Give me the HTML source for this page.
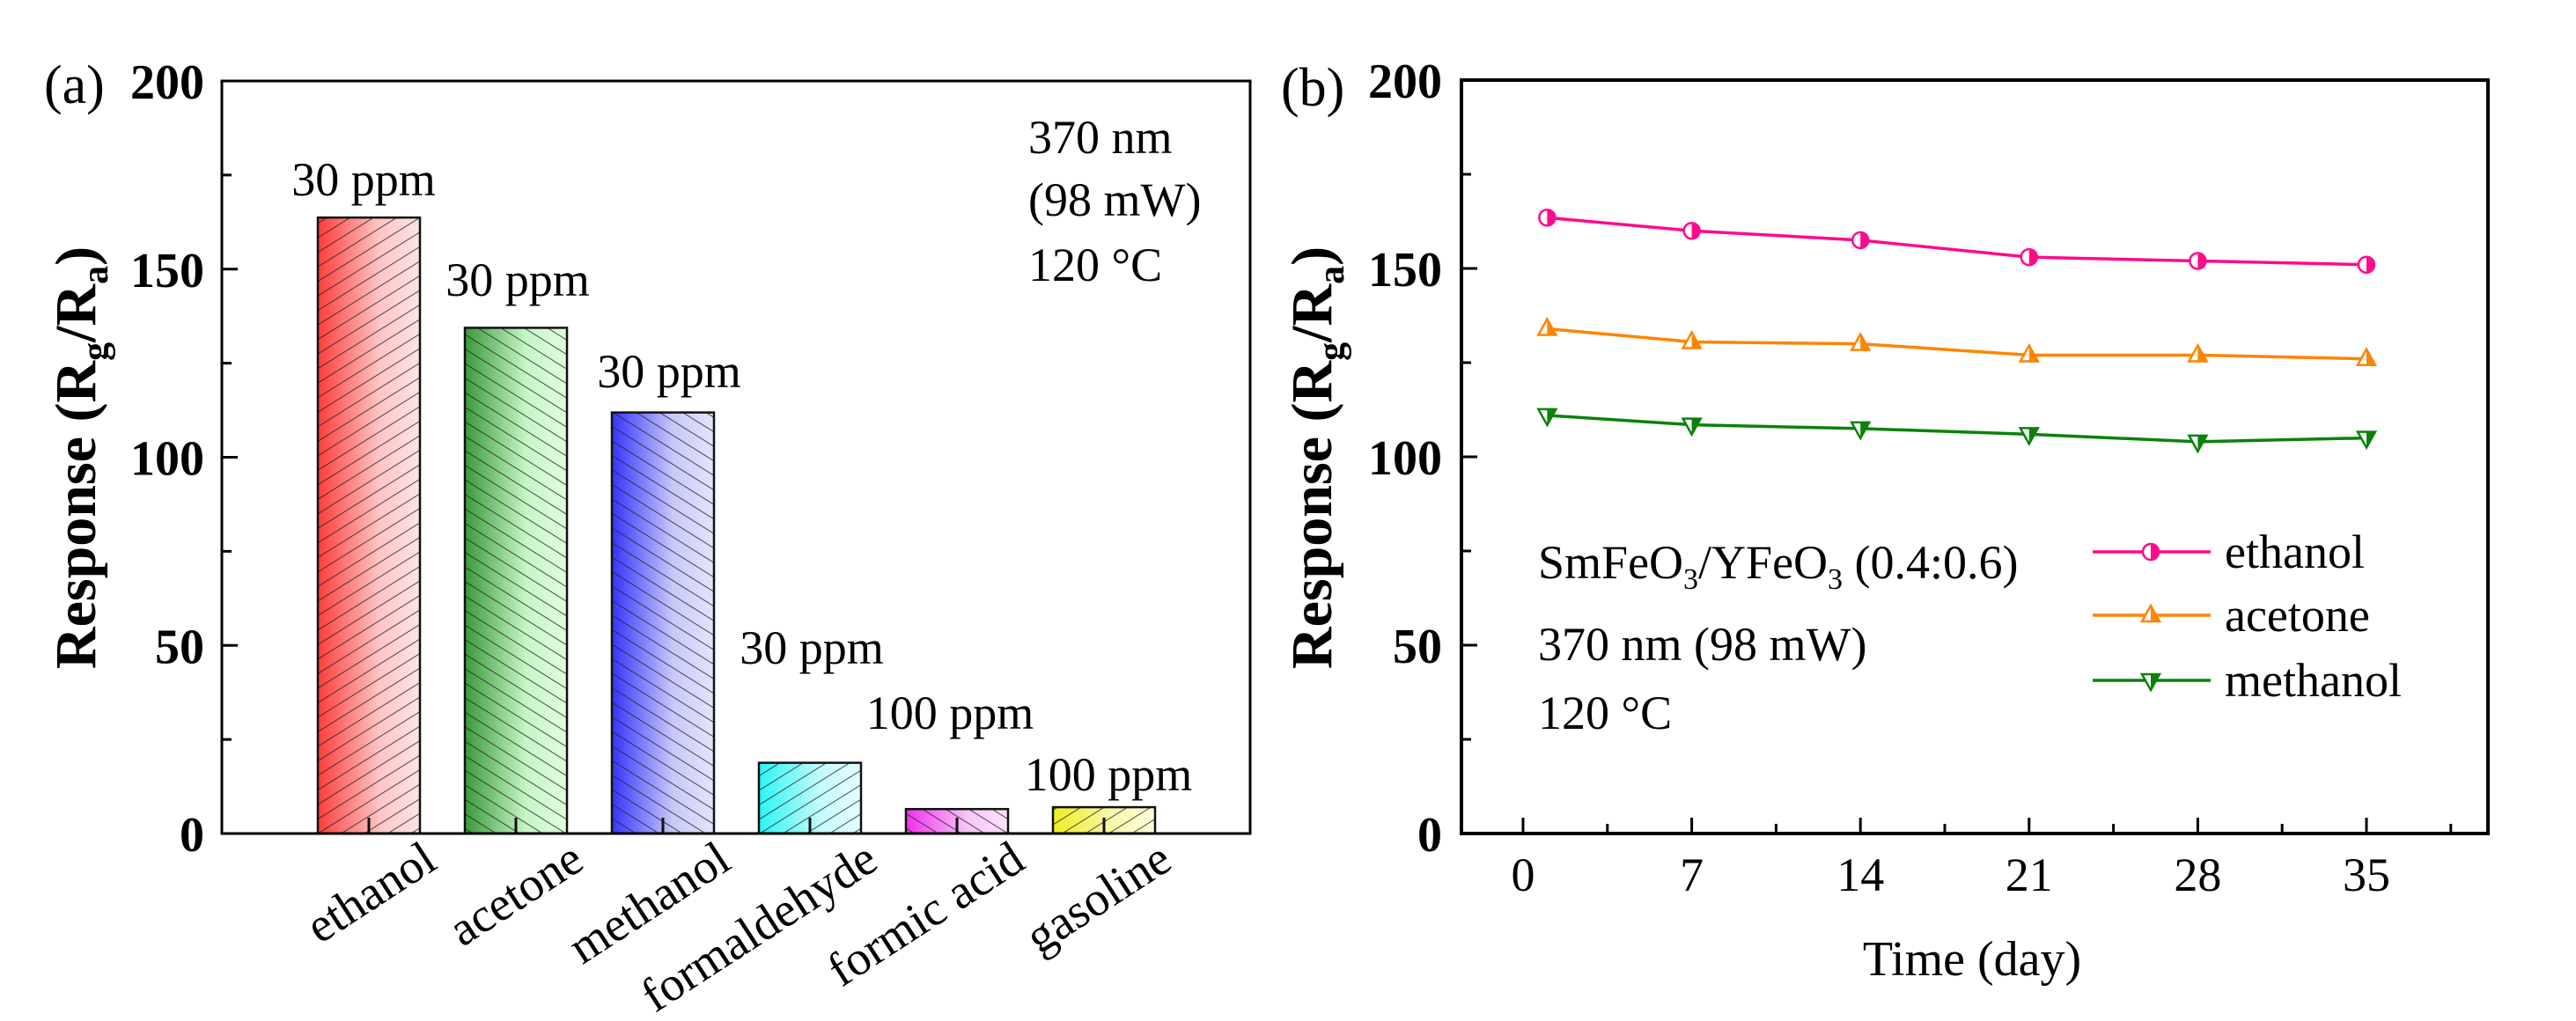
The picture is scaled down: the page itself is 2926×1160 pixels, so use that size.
<!DOCTYPE html>
<html><head><meta charset="utf-8"><style>
html,body{margin:0;padding:0;background:#fff;}
svg{display:block;font-family:"Liberation Serif",serif;}
</style></head><body>
<svg id="fig" width="2926" height="1160" viewBox="0 0 2926 1160" xmlns="http://www.w3.org/2000/svg">
<defs>
<linearGradient id="gEth" x1="0" x2="1"><stop offset="0" stop-color="#ff3b3b"/><stop offset="0.6" stop-color="#ffc4c4"/><stop offset="1" stop-color="#ffe4e4"/></linearGradient>
<linearGradient id="gAce" x1="0" x2="1"><stop offset="0" stop-color="#3a9a3a"/><stop offset="0.6" stop-color="#c6f5c6"/><stop offset="1" stop-color="#e0ffe0"/></linearGradient>
<linearGradient id="gMet" x1="0" x2="1"><stop offset="0" stop-color="#3434ff"/><stop offset="0.6" stop-color="#c8c8fa"/><stop offset="1" stop-color="#e4e4ff"/></linearGradient>
<linearGradient id="gFor" x1="0" x2="1"><stop offset="0" stop-color="#2af5f5"/><stop offset="0.6" stop-color="#c4fafa"/><stop offset="1" stop-color="#e4ffff"/></linearGradient>
<linearGradient id="gFa" x1="0" x2="1"><stop offset="0" stop-color="#f030f0"/><stop offset="0.6" stop-color="#f8c4f8"/><stop offset="1" stop-color="#ffe4ff"/></linearGradient>
<linearGradient id="gGas" x1="0" x2="1"><stop offset="0" stop-color="#eeee20"/><stop offset="0.6" stop-color="#f8f8b0"/><stop offset="1" stop-color="#ffffdc"/></linearGradient>
<pattern id="hF" patternUnits="userSpaceOnUse" width="14" height="14" patternTransform="rotate(-32)"><line x1="0" y1="0" x2="14" y2="0" stroke="#222" stroke-width="1.6"/></pattern>
<pattern id="hB" patternUnits="userSpaceOnUse" width="14" height="14" patternTransform="rotate(32)"><line x1="0" y1="0" x2="14" y2="0" stroke="#222" stroke-width="1.6"/></pattern>
</defs>
<g id="pa"></g>
<g id="pb"></g>
</svg>
<script>
// Panel (a) data
const categories = ["ethanol","acetone","methanol","formaldehyde","formic acid","gasoline"];
const responses = [163.7, 134.4, 111.9, 18.8, 6.5, 7.0];
const concLabels = ["30 ppm","30 ppm","30 ppm","30 ppm","100 ppm","100 ppm"];
const yTicksA = [0, 50, 100, 150, 200];
// Panel (b) data
const days = [1, 7, 14, 21, 28, 35];
const ethanolSeries = [163.5, 160, 157.5, 153, 152, 151];
const acetoneSeries = [134, 130.5, 130, 127, 127, 126];
const methanolSeries = [111, 108.5, 107.5, 106, 104, 105];
const xTicksB = [0, 7, 14, 21, 28, 35];
const yTicksB = [0, 50, 100, 150, 200];

const NS = "http://www.w3.org/2000/svg";
function mk(parent, tag, attrs, text) {
  const e = document.createElementNS(NS, tag);
  for (const k in attrs) e.setAttribute(k, attrs[k]);
  if (text !== undefined) e.textContent = text;
  parent.appendChild(e);
  return e;
}

// ---------- Panel A ----------
const pa = document.getElementById('pa');
const A = {l:252, r:1420, t:92, b:947};
const yA = v => A.b - (v/200)*(A.b-A.t);
const step = 167, x0 = 419, bw = 116;
const xA = i => x0 + i*step;
const fills = ["url(#gEth)","url(#gAce)","url(#gMet)","url(#gFor)","url(#gFa)","url(#gGas)"];
const hatch = ["url(#hF)","url(#hB)","url(#hB)","url(#hF)","url(#hB)","url(#hF)"];
const labelY = [204, 318, 422, 736, 810, 880];
const labelX = [413, 588, 760, 922, 1079, 1259];

categories.forEach((c, i) => {
  const x = xA(i) - bw/2, y = yA(responses[i]), h = A.b - y;
  let r = mk(pa, 'rect', {x, y, width: bw, height: h, fill: fills[i]});
  
  
  let hr = mk(pa, 'rect', {x, y, width: bw, height: h, fill: hatch[i], stroke: '#111', 'stroke-width': 2.5});
  
  
  let t = mk(pa, 'text', {x: labelX[i], y: labelY[i] + 18, 'font-size': 54, 'text-anchor': 'middle'}, concLabels[i]);
  
  
  let xt = mk(pa, 'line', {x1: xA(i), x2: xA(i), y1: A.b, y2: A.b - 18, stroke: '#111', 'stroke-width': 3});
  
  
  const ex = xA(i) + 80, ey = 985;
  let cl = mk(pa, 'text', {x: ex, y: ey, 'font-size': 55, 'text-anchor': 'end', transform: `rotate(-33 ${ex} ${ey})`}, c);
  
  
});
let fa = mk(pa, 'rect', {x: A.l, y: A.t, width: A.r-A.l, height: A.b-A.t, fill: 'none', stroke: '#000', 'stroke-width': 3});


for (let v = 0; v <= 200; v += 25) {
  const major = v % 50 === 0;
  let tk = mk(pa, 'line', {x1: A.l, x2: A.l + (major ? 18 : 11), y1: yA(v), y2: yA(v), stroke: '#000', 'stroke-width': 3});
  
  
}
yTicksA.forEach(v => {
  let t = mk(pa, 'text', {x: 232, y: yA(v) + 20, 'font-size': 56, 'font-weight': 'bold', 'text-anchor': 'end'}, v);
  
  
});
let pla = mk(pa, 'text', {x: 50, y: 117, 'font-size': 62}, '(a)');


let yta = mk(pa, 'text', {x: 0, y: 0, 'font-size': 66, 'font-weight': 'bold', 'text-anchor': 'middle', transform: 'translate(108 520) rotate(-90)'});


yta.innerHTML = 'Response (R<tspan font-size="42" dy="14">g</tspan><tspan dy="-14">/R</tspan><tspan font-size="42" dy="14">a</tspan><tspan dy="-14">)</tspan>';
["370 nm","(98 mW)","120 °C"].forEach((s, i) => {
  let t = mk(pa, 'text', {x: 1168, y: [156, 227, 301][i] + 18, 'font-size': 54}, s);
  
  
});

// ---------- Panel B ----------
const pb = document.getElementById('pb');
const B = {l:1660, r:2826, t:91, b:947};
const xB = d => 1730 + (d/35)*(2688-1730);
const yB = v => B.b - (v/200)*(B.b-B.t);
let fb = mk(pb, 'rect', {x: B.l, y: B.t, width: B.r-B.l, height: B.b-B.t, fill: 'none', stroke: '#000', 'stroke-width': 4});


for (let v = 0; v <= 200; v += 25) {
  const major = v % 50 === 0;
  let tk = mk(pb, 'line', {x1: B.l, x2: B.l + (major ? 18 : 11), y1: yB(v), y2: yB(v), stroke: '#000', 'stroke-width': 3});
  
  
}
for (let d = 0; d <= 38.5; d += 3.5) {
  const major = Math.abs(d % 7) < 1e-6;
  let tk = mk(pb, 'line', {x1: xB(d), x2: xB(d), y1: B.b, y2: B.b - (major ? 18 : 11), stroke: '#000', 'stroke-width': 3});
  
  
}
yTicksB.forEach(v => {
  let t = mk(pb, 'text', {x: 1638, y: yB(v) + 20, 'font-size': 56, 'font-weight': 'bold', 'text-anchor': 'end'}, v);
  
  
});
xTicksB.forEach(d => {
  let t = mk(pb, 'text', {x: xB(d), y: 1012, 'font-size': 54, 'text-anchor': 'middle'}, d);
  
  
});
let xtb = mk(pb, 'text', {x: 2240, y: 1108, 'font-size': 56, 'text-anchor': 'middle'}, 'Time (day)');


let plb = mk(pb, 'text', {x: 1455, y: 120, 'font-size': 62}, '(b)');


let ytb = mk(pb, 'text', {x: 0, y: 0, 'font-size': 66, 'font-weight': 'bold', 'text-anchor': 'middle', transform: 'translate(1512 520) rotate(-90)'});


ytb.innerHTML = 'Response (R<tspan font-size="42" dy="14">g</tspan><tspan dy="-14">/R</tspan><tspan font-size="42" dy="14">a</tspan><tspan dy="-14">)</tspan>';

function marker(g, kind, cx, cy, color) {
  if (kind === 'circle') {
    mk(g, 'circle', {cx, cy, r: 9, fill: '#fff', stroke: color, 'stroke-width': 2.5});
    mk(g, 'path', {d: `M${cx} ${cy-9} A9 9 0 0 1 ${cx} ${cy+9} Z`, fill: color});
  } else if (kind === 'up') {
    mk(g, 'polygon', {points: `${cx},${cy-11} ${cx+10},${cy+7} ${cx-10},${cy+7}`, fill: '#fff', stroke: color, 'stroke-width': 2.5});
    mk(g, 'polygon', {points: `${cx},${cy-11} ${cx+10},${cy+7} ${cx},${cy+7}`, fill: color});
  } else {
    mk(g, 'polygon', {points: `${cx-10},${cy-7} ${cx+10},${cy-7} ${cx},${cy+11}`, fill: '#fff', stroke: color, 'stroke-width': 2.5});
    mk(g, 'polygon', {points: `${cx},${cy-7} ${cx+10},${cy-7} ${cx},${cy+11}`, fill: color});
  }
}
const series = [
  {name: 'ethanol', vals: ethanolSeries, color: '#ff0a8c', kind: 'circle', ly: 627},
  {name: 'acetone', vals: acetoneSeries, color: '#ff8400', kind: 'up', ly: 699},
  {name: 'methanol', vals: methanolSeries, color: '#0a820a', kind: 'down', ly: 773},
];
series.forEach(s => {
  const g = mk(pb, 'g', {});
  
  
  const pts = days.map((d, i) => `${xB(d)},${yB(s.vals[i])}`).join(' ');
  let pl = mk(g, 'polyline', {points: pts, fill: 'none', stroke: s.color, 'stroke-width': 3.5});
  
  
  days.forEach((d, i) => marker(g, s.kind, xB(d), yB(s.vals[i]), s.color));
  const lg = mk(pb, 'g', {});
  
  
  mk(lg, 'line', {x1: 2377, x2: 2511, y1: s.ly, y2: s.ly, stroke: s.color, 'stroke-width': 3.5});
  marker(lg, s.kind, 2443, s.ly, s.color);
  mk(lg, 'text', {x: 2527, y: s.ly + 18, 'font-size': 54}, s.name);
});
const ann = mk(pb, 'g', {});


const a1 = mk(ann, 'text', {x: 1747, y: 657, 'font-size': 54});
a1.innerHTML = 'SmFeO<tspan font-size="34" dy="12">3</tspan><tspan dy="-12">/YFeO</tspan><tspan font-size="34" dy="12">3</tspan><tspan dy="-12"> (0.4:0.6)</tspan>';
mk(ann, 'text', {x: 1747, y: 750, 'font-size': 54}, '370 nm (98 mW)');
mk(ann, 'text', {x: 1747, y: 828, 'font-size': 54}, '120 °C');
</script>
</body></html>
